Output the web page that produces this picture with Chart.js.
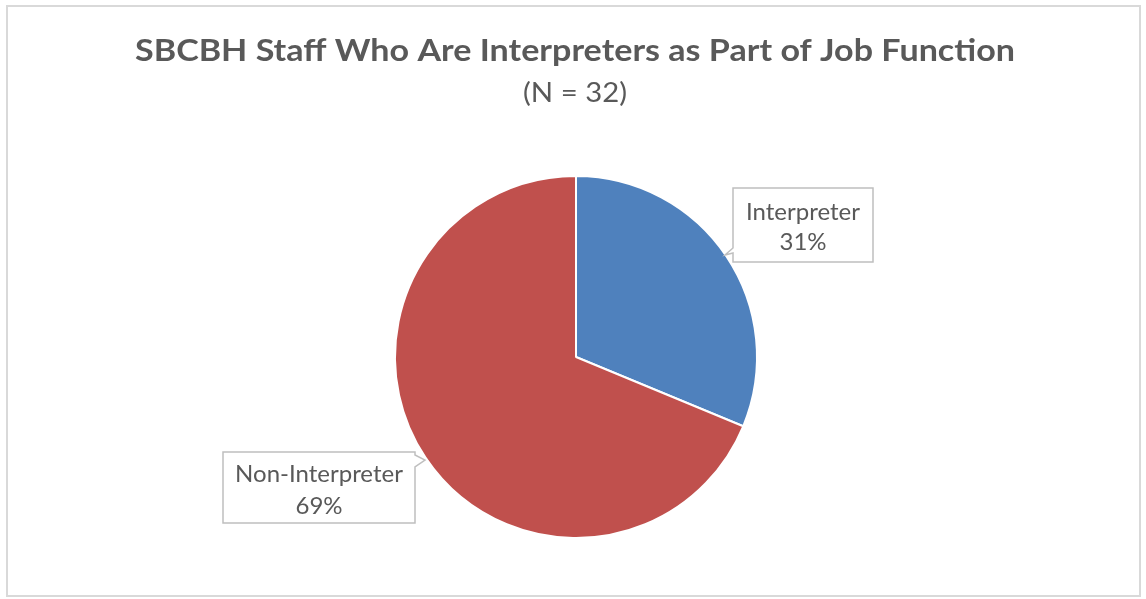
<!DOCTYPE html>
<html>
<head>
<meta charset="utf-8">
<script src="https://cdn.jsdelivr.net/npm/chart.js@4.4.1/dist/chart.umd.min.js"></script>
<style>
html,body{margin:0;padding:0;background:#fff;}
#wrap{position:absolute;left:0;top:0;width:1146px;height:599px;}
</style>
</head>
<body>
<div id="wrap"><canvas id="c" width="1146" height="599"></canvas></div>
<script>
const categories = ["Interpreter", "Non-Interpreter"];
const counts = [10, 22];
const percentLabels = ["31%", "69%"];
const titleText = "SBCBH Staff Who Are Interpreters as Part of Job Function";
const subtitleText = "(N = 32)";
const colors = ["#4F81BD", "#C0504D"];

function fitText(ctx, text, cx, base, font, targetW) {
  ctx.save();
  ctx.font = font;
  const w = ctx.measureText(text).width;
  const s = targetW / w;
  ctx.translate(cx, base);
  ctx.scale(s, 1);
  ctx.textAlign = 'center';
  ctx.textBaseline = 'alphabetic';
  ctx.fillText(text, 0, 0);
  ctx.restore();
}

const decor = {
  id: 'decor',
  beforeDraw(chart) {
    const ctx = chart.ctx;
    ctx.save();
    ctx.fillStyle = '#fff';
    ctx.fillRect(0, 0, chart.width, chart.height);
    ctx.strokeStyle = '#d9d9d9';
    ctx.lineWidth = 2;
    ctx.strokeRect(7, 6, 1133, 590);
    ctx.fillStyle = '#595959';
    fitText(ctx, titleText, 575, 61, 'bold 30px Lato', 880);
    fitText(ctx, subtitleText, 575, 102, '26px Lato', 104);
    ctx.restore();
  },
  afterDraw(chart) {
    const ctx = chart.ctx;
    const meta = chart.getDatasetMeta(0);
    const boxes = [
      {x: 733, y: 188, w: 140, h: 74, ptr: [[733, 248], [725, 255], [733, 253]], b1: 32, b2: 62},
      {x: 223, y: 452, w: 192, h: 71, ptr: [[415, 455], [425, 460], [415, 467]], b1: 30, b2: 62}
    ];
    ctx.save();
    meta.data.forEach((arc, i) => {
      const b = boxes[i];
      ctx.beginPath();
      ctx.fillStyle = '#fff';
      ctx.strokeStyle = '#bfbfbf';
      ctx.lineWidth = 1.5;
      if (i === 0) {
        ctx.moveTo(b.x, b.y);
        ctx.lineTo(b.x + b.w, b.y);
        ctx.lineTo(b.x + b.w, b.y + b.h);
        ctx.lineTo(b.x, b.y + b.h);
        ctx.lineTo(b.ptr[2][0], b.ptr[2][1]);
        ctx.lineTo(b.ptr[1][0], b.ptr[1][1]);
        ctx.lineTo(b.ptr[0][0], b.ptr[0][1]);
        ctx.closePath();
      } else {
        ctx.moveTo(b.x, b.y);
        ctx.lineTo(b.x + b.w, b.y);
        ctx.lineTo(b.ptr[0][0], b.ptr[0][1]);
        ctx.lineTo(b.ptr[1][0], b.ptr[1][1]);
        ctx.lineTo(b.ptr[2][0], b.ptr[2][1]);
        ctx.lineTo(b.x + b.w, b.y + b.h);
        ctx.lineTo(b.x, b.y + b.h);
        ctx.closePath();
      }
      ctx.fill();
      ctx.stroke();
      ctx.fillStyle = '#595959';
      ctx.font = '24px Lato';
      ctx.textAlign = 'center';
      ctx.textBaseline = 'alphabetic';
      const cx = b.x + b.w / 2;
      ctx.fillText(categories[i], cx, b.y + b.b1);
      ctx.fillText(percentLabels[i], cx, b.y + b.b2);
    });
    ctx.restore();
  }
};

new Chart(document.getElementById('c'), {
  type: 'pie',
  data: {
    labels: categories,
    datasets: [{
      data: counts,
      backgroundColor: colors,
      borderColor: '#ffffff',
      borderWidth: 2
    }]
  },
  options: {
    responsive: false,
    animation: false,
    layout: {padding: {left: 6, right: 0, top: 175, bottom: 60}},
    plugins: {legend: {display: false}, tooltip: {enabled: false}, title: {display: false}}
  },
  plugins: [decor]
});
</script>
</body>
</html>
